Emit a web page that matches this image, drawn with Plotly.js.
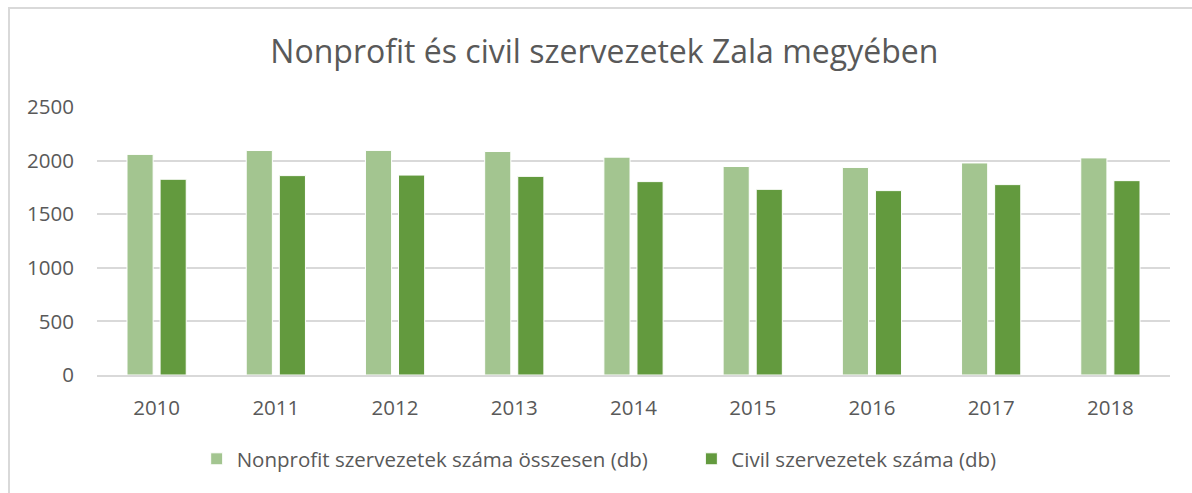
<!DOCTYPE html>
<html>
<head>
<meta charset="utf-8">
<script src="https://cdn.plot.ly/plotly-3.0.1.min.js"></script>
<style>
  html, body { margin: 0; padding: 0; background: #ffffff; }
  #frame { position: absolute; left: 8px; top: 7px; width: 1300px; height: 600px;
           border-left: 2px solid #d9d9d9; border-top: 2px solid #d9d9d9; }
  #chart { position: absolute; left: 0; top: 0; width: 1192px; height: 493px; }
</style>
</head>
<body>
<div id="frame"></div>
<div id="chart"></div>
<script>
const years = ['2010','2011','2012','2013','2014','2015','2016','2017','2018'];
const nonprofitTotal = [2058, 2094, 2095, 2085, 2032, 1945, 1936, 1978, 2025];
const civilCount = [1826, 1860, 1865, 1853, 1804, 1732, 1720, 1776, 1813];
const seriesNames = ['Nonprofit szervezetek száma összesen (db)', 'Civil szervezetek száma (db)'];
const titleText = 'Nonprofit és civil szervezetek Zala megyében';

const fontFam = '"Open Sans", "Noto Sans", sans-serif';
const textColor = '#595959';

const traces = [
  { type: 'bar', x: years, y: nonprofitTotal, name: seriesNames[0], legend: 'legend',
    marker: { color: '#a3c590', line: { color: '#ffffff', width: 1 } }, hoverinfo: 'x+y' },
  { type: 'bar', x: years, y: civilCount, name: seriesNames[1], legend: 'legend2',
    marker: { color: '#639a3e', line: { color: '#ffffff', width: 1 } }, hoverinfo: 'x+y' }
];

const legendBase = { orientation: 'h', xref: 'container', yref: 'container', xanchor: 'left',
                     y: 0.069, yanchor: 'middle', font: { size: 20.5, color: textColor }, itemwidth: 30 };

const layout = {
  width: 1192, height: 493,
  paper_bgcolor: 'rgba(0,0,0,0)', plot_bgcolor: 'rgba(0,0,0,0)',
  margin: { l: 97, r: 22, t: 107, b: 118 },
  font: { family: fontFam, color: textColor, size: 20 },
  title: { text: titleText, x: 0.507, xanchor: 'center', y: 0.894, yanchor: 'middle', yref: 'container',
           font: { family: fontFam, size: 32, color: textColor } },
  barmode: 'group', bargap: 0.445, bargroupgap: 0.21,
  xaxis: { type: 'category', showgrid: false, showline: true, linecolor: '#d9d9d9', linewidth: 2,
           ticks: '', tickfont: { size: 20.5, color: textColor }, ticklabelstandoff: 13 },
  yaxis: { range: [0, 2500], dtick: 500, tick0: 0, showgrid: true, gridcolor: '#d9d9d9', gridwidth: 2,
           zeroline: false, showline: false, ticks: '', tickfont: { size: 20.5, color: textColor },
           ticklabelstandoff: 22 },
  legend: Object.assign({}, legendBase, { x: 0.165 }),
  legend2: Object.assign({}, legendBase, { x: 0.58 }),
  showlegend: true
};

Plotly.newPlot('chart', traces, layout, { displayModeBar: false, staticPlot: true });
</script>
</body>
</html>
